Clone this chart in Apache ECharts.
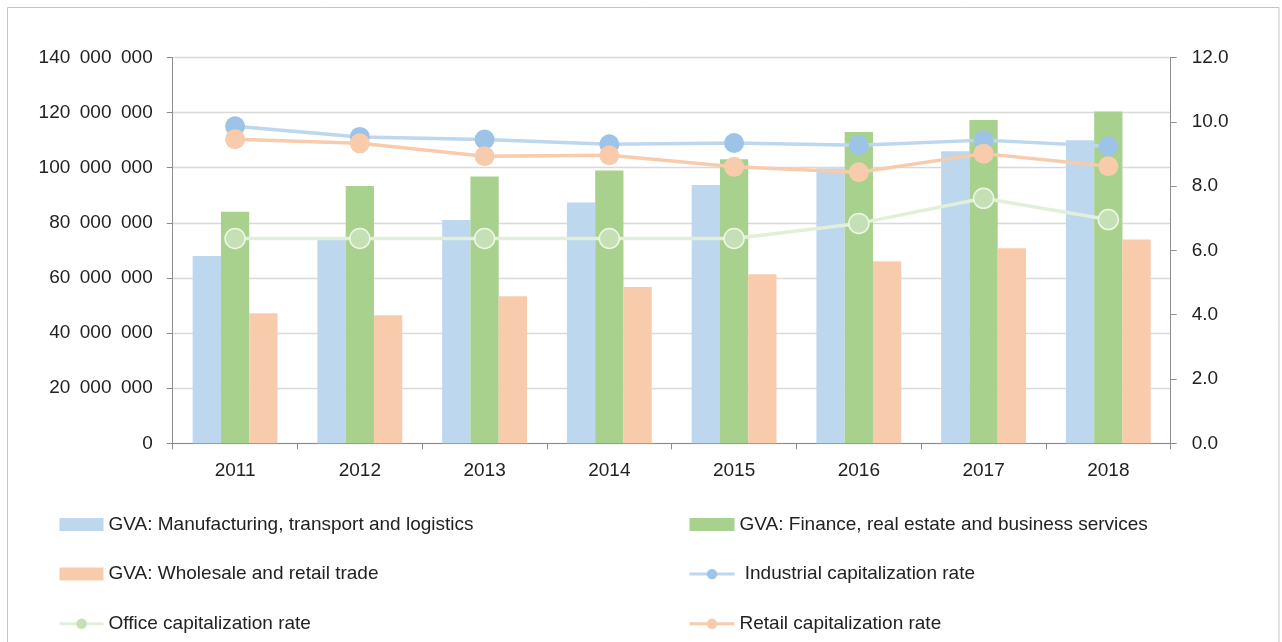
<!DOCTYPE html>
<html>
<head>
<meta charset="utf-8">
<title>GVA and capitalization rates</title>
<script src="https://cdn.jsdelivr.net/npm/echarts@6/dist/echarts.min.js"></script>
<style>
  html, body { margin: 0; padding: 0; background: #ffffff; }
  #chart { width: 1282px; height: 642px; }
</style>
</head>
<body>
<div id="chart"></div>
<script>
// Years on the category axis
const years = ['2011', '2012', '2013', '2014', '2015', '2016', '2017', '2018'];

// Gross value added by sector (left axis)
const gvaManufacturing = [68000000, 74300000, 81000000, 87400000, 93700000, 99800000, 106000000, 110000000];
const gvaFinance = [84000000, 93400000, 96800000, 99000000, 103100000, 113000000, 117300000, 120400000];
const gvaWholesale = [47200000, 46500000, 53400000, 56700000, 61300000, 66100000, 70800000, 74000000];

// Capitalization rates, % (right axis)
const industrialRate = [9.86, 9.53, 9.45, 9.30, 9.34, 9.27, 9.43, 9.24];
const officeRate = [6.37, 6.37, 6.37, 6.37, 6.37, 6.84, 7.62, 6.96];
const retailRate = [9.46, 9.33, 8.93, 8.96, 8.60, 8.43, 9.01, 8.62];

// Series names as shown in the legend
const names = {
  manufacturing: 'GVA: Manufacturing, transport and logistics',
  finance: 'GVA: Finance, real estate and business services',
  wholesale: 'GVA: Wholesale and retail trade',
  industrial: ' Industrial capitalization rate',
  office: 'Office capitalization rate',
  retail: 'Retail capitalization rate'
};

const FONT = '"Liberation Sans", Arial, sans-serif';
const FONT_SIZE = 19;
const TEXT = '#222222';
const AXIS = '#8c8c8c';

function groupThousands(v) {
  return String(Math.round(v)).replace(/\B(?=(\d{3})+(?!\d))/g, '\u2002');
}

const chart = echarts.init(document.getElementById('chart'), null, { renderer: 'canvas' });

const legendText = { fontFamily: FONT, fontSize: FONT_SIZE, color: TEXT, lineHeight: 20 };

const option = {
  backgroundColor: '#ffffff',
  animation: false,
  textStyle: { fontFamily: FONT },
  graphic: [{
    type: 'rect',
    shape: { x: 7.5, y: 7.5, width: 1271.5, height: 660 },
    style: { fill: 'none', stroke: '#c4c4c4', lineWidth: 1 },
    silent: true,
    z: -1
  }],
  grid: { left: 172.7, right: 111.3, top: 57.5, bottom: 198.7, containLabel: false },
  legend: [
    {
      orient: 'vertical', left: 58, top: 514.5, itemGap: 29.6, padding: 0,
      itemWidth: 44, itemHeight: 13, itemStyle: { borderWidth: 0 },
      lineStyle: { width: 3 },
      textStyle: legendText,
      data: [
        { name: names.manufacturing, icon: 'rect' },
        { name: names.wholesale, icon: 'rect' },
        { name: names.office }
      ]
    },
    {
      orient: 'vertical', left: 688, top: 514.5, itemGap: 29.6, padding: 0,
      itemWidth: 45, itemHeight: 13, itemStyle: { borderWidth: 0 },
      lineStyle: { width: 3 },
      textStyle: legendText,
      data: [
        { name: names.finance, icon: 'rect' },
        { name: names.industrial },
        { name: names.retail }
      ]
    }
  ],
  xAxis: {
    type: 'category',
    data: years,
    boundaryGap: true,
    axisLine: { lineStyle: { color: AXIS, width: 1 } },
    axisTick: { show: true, length: 6, lineStyle: { color: AXIS } },
    axisLabel: { margin: 18, fontFamily: FONT, fontSize: FONT_SIZE, color: TEXT },
    splitLine: { show: false }
  },
  yAxis: [
    {
      type: 'value', min: 0, max: 140000000, interval: 20000000,
      axisLine: { show: true, lineStyle: { color: AXIS, width: 1 } },
      axisTick: { show: true, length: 6, lineStyle: { color: AXIS } },
      axisLabel: { margin: 20, fontFamily: FONT, fontSize: FONT_SIZE, color: TEXT, formatter: groupThousands },
      splitLine: { show: true, lineStyle: { color: '#d9d9d9', width: 1.3 } }
    },
    {
      type: 'value', min: 0, max: 12, interval: 2, position: 'right',
      axisLine: { show: true, lineStyle: { color: AXIS, width: 1 } },
      axisTick: { show: true, length: 6, lineStyle: { color: AXIS } },
      axisLabel: { margin: 21, fontFamily: FONT, fontSize: FONT_SIZE, color: TEXT, formatter: v => v.toFixed(1) },
      splitLine: { show: false }
    }
  ],
  series: [
    {
      name: names.manufacturing, type: 'bar', yAxisIndex: 0, data: gvaManufacturing,
      barGap: '0%', barCategoryGap: '32%',
      itemStyle: { color: '#bdd7ee' }
    },
    {
      name: names.finance, type: 'bar', yAxisIndex: 0, data: gvaFinance,
      barGap: '0%', barCategoryGap: '32%',
      itemStyle: { color: '#a9d18e' }
    },
    {
      name: names.wholesale, type: 'bar', yAxisIndex: 0, data: gvaWholesale,
      barGap: '0%', barCategoryGap: '32%',
      itemStyle: { color: '#f8cbad' }
    },
    {
      name: names.industrial, type: 'line', yAxisIndex: 1, data: industrialRate,
      symbol: 'circle', symbolSize: 20,
      lineStyle: { color: '#bdd7ee', width: 3.5 },
      itemStyle: { color: '#9dc3e6', borderWidth: 0 }
    },
    {
      name: names.office, type: 'line', yAxisIndex: 1, data: officeRate,
      symbol: 'circle', symbolSize: 20,
      lineStyle: { color: '#e2f0d9', width: 3.5 },
      itemStyle: { color: '#c5e0b4', borderColor: '#eef7e8', borderWidth: 1.5 }
    },
    {
      name: names.retail, type: 'line', yAxisIndex: 1, data: retailRate,
      symbol: 'circle', symbolSize: 20,
      lineStyle: { color: '#f8cbad', width: 3.5 },
      itemStyle: { color: '#f8cbad', borderWidth: 0 }
    }
  ]
};

chart.setOption(option);
</script>
</body>
</html>
